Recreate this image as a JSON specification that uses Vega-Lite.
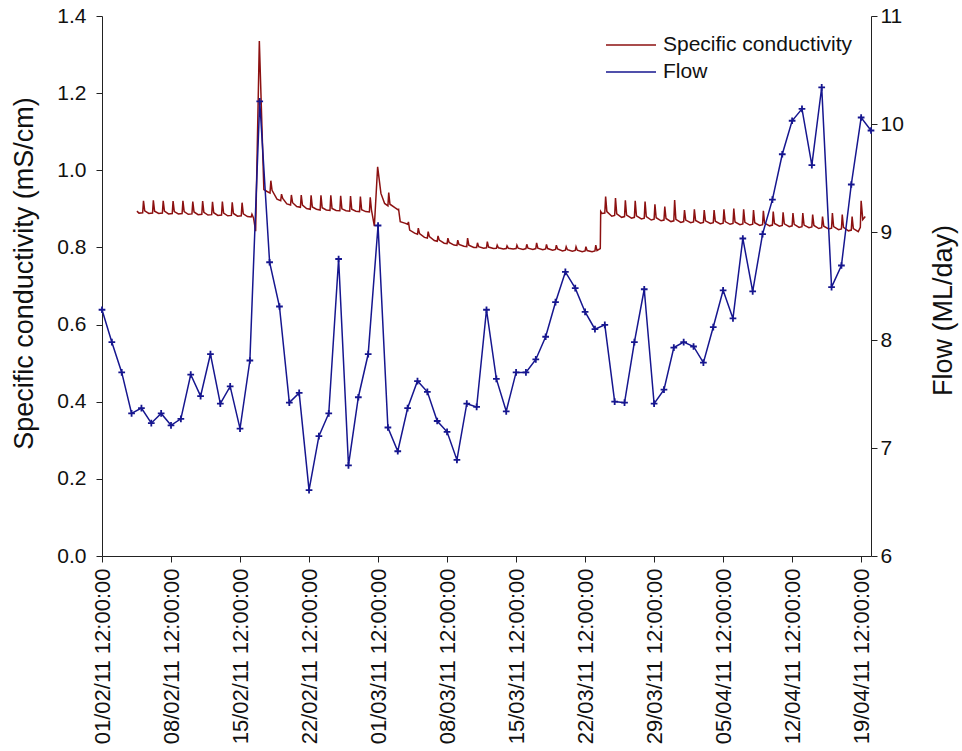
{
  "$schema": "https://vega.github.io/schema/vega-lite/v6.json",
  "width": 769,
  "height": 540,
  "autosize": "none",
  "padding": {"left": 102, "top": 16, "right": 91, "bottom": 195},
  "background": "white",
  "config": {
    "view": {"stroke": null},
    "font": "Liberation Sans",
    "axis": {
      "grid": false,
      "domainColor": "#222222",
      "tickColor": "#222222",
      "tickSize": 6,
      "labelFont": "Liberation Sans",
      "labelFontSize": 21,
      "labelColor": "#111111",
      "titleFont": "Liberation Sans",
      "titleFontSize": 27,
      "titleFontWeight": "normal",
      "titleColor": "#111111"
    },
    "legend": {
      "labelFont": "Liberation Sans",
      "labelFontSize": 21,
      "labelColor": "#111111"
    }
  },
  "datasets": {
    "flow": [
      {"t":"2011-02-01T12:00","f":8.28},{"t":"2011-02-02T12:00","f":7.98},{"t":"2011-02-03T12:00","f":7.70},{"t":"2011-02-04T12:00","f":7.32},
      {"t":"2011-02-05T12:00","f":7.37},{"t":"2011-02-06T12:00","f":7.23},{"t":"2011-02-07T12:00","f":7.32},{"t":"2011-02-08T12:00","f":7.21},
      {"t":"2011-02-09T12:00","f":7.27},{"t":"2011-02-10T12:00","f":7.68},{"t":"2011-02-11T12:00","f":7.48},{"t":"2011-02-12T12:00","f":7.87},
      {"t":"2011-02-13T12:00","f":7.41},{"t":"2011-02-14T12:00","f":7.57},{"t":"2011-02-15T12:00","f":7.18},{"t":"2011-02-16T12:00","f":7.81},
      {"t":"2011-02-17T12:00","f":10.21},{"t":"2011-02-18T12:00","f":8.72},{"t":"2011-02-19T12:00","f":8.31},{"t":"2011-02-20T12:00","f":7.42},
      {"t":"2011-02-21T12:00","f":7.51},{"t":"2011-02-22T12:00","f":6.61},{"t":"2011-02-23T12:00","f":7.11},{"t":"2011-02-24T12:00","f":7.32},
      {"t":"2011-02-25T12:00","f":8.75},{"t":"2011-02-26T12:00","f":6.84},{"t":"2011-02-27T12:00","f":7.47},{"t":"2011-02-28T12:00","f":7.87},
      {"t":"2011-03-01T12:00","f":9.06},{"t":"2011-03-02T12:00","f":7.19},{"t":"2011-03-03T12:00","f":6.97},{"t":"2011-03-04T12:00","f":7.37},
      {"t":"2011-03-05T12:00","f":7.62},{"t":"2011-03-06T12:00","f":7.52},{"t":"2011-03-07T12:00","f":7.25},{"t":"2011-03-08T12:00","f":7.15},
      {"t":"2011-03-09T12:00","f":6.89},{"t":"2011-03-10T12:00","f":7.41},{"t":"2011-03-11T12:00","f":7.38},{"t":"2011-03-12T12:00","f":8.28},
      {"t":"2011-03-13T12:00","f":7.64},{"t":"2011-03-14T12:00","f":7.34},{"t":"2011-03-15T12:00","f":7.70},{"t":"2011-03-16T12:00","f":7.70},
      {"t":"2011-03-17T12:00","f":7.82},{"t":"2011-03-18T12:00","f":8.03},{"t":"2011-03-19T12:00","f":8.35},{"t":"2011-03-20T12:00","f":8.63},
      {"t":"2011-03-21T12:00","f":8.48},{"t":"2011-03-22T12:00","f":8.26},{"t":"2011-03-23T12:00","f":8.10},{"t":"2011-03-24T12:00","f":8.14},
      {"t":"2011-03-25T12:00","f":7.43},{"t":"2011-03-26T12:00","f":7.42},{"t":"2011-03-27T12:00","f":7.98},{"t":"2011-03-28T12:00","f":8.47},
      {"t":"2011-03-29T12:00","f":7.41},{"t":"2011-03-30T12:00","f":7.54},{"t":"2011-03-31T12:00","f":7.93},{"t":"2011-04-01T12:00","f":7.98},
      {"t":"2011-04-02T12:00","f":7.94},{"t":"2011-04-03T12:00","f":7.79},{"t":"2011-04-04T12:00","f":8.12},{"t":"2011-04-05T12:00","f":8.46},
      {"t":"2011-04-06T12:00","f":8.20},{"t":"2011-04-07T12:00","f":8.94},{"t":"2011-04-08T12:00","f":8.45},{"t":"2011-04-09T12:00","f":8.98},
      {"t":"2011-04-10T12:00","f":9.30},{"t":"2011-04-11T12:00","f":9.72},{"t":"2011-04-12T12:00","f":10.03},{"t":"2011-04-13T12:00","f":10.14},
      {"t":"2011-04-14T12:00","f":9.62},{"t":"2011-04-15T12:00","f":10.34},{"t":"2011-04-16T12:00","f":8.49},{"t":"2011-04-17T12:00","f":8.69},
      {"t":"2011-04-18T12:00","f":9.44},{"t":"2011-04-19T12:00","f":10.06},{"t":"2011-04-20T12:00","f":9.94}
    ],
    "cond": [
      {"t":"2011-02-05T01:00","c":0.894},{"t":"2011-02-05T06:00","c":0.889},{"t":"2011-02-05T15:00","c":0.890},{"t":"2011-02-05T17:00","c":0.921},{"t":"2011-02-05T20:00","c":0.895},
      {"t":"2011-02-06T06:00","c":0.888},{"t":"2011-02-06T15:00","c":0.889},{"t":"2011-02-06T17:00","c":0.922},{"t":"2011-02-06T20:00","c":0.894},
      {"t":"2011-02-07T06:00","c":0.888},{"t":"2011-02-07T15:00","c":0.889},{"t":"2011-02-07T17:00","c":0.921},{"t":"2011-02-07T20:00","c":0.894},
      {"t":"2011-02-08T06:00","c":0.887},{"t":"2011-02-08T15:00","c":0.888},{"t":"2011-02-08T17:00","c":0.920},{"t":"2011-02-08T20:00","c":0.893},
      {"t":"2011-02-09T06:00","c":0.887},{"t":"2011-02-09T15:00","c":0.888},{"t":"2011-02-09T17:00","c":0.921},{"t":"2011-02-09T20:00","c":0.893},
      {"t":"2011-02-10T06:00","c":0.886},{"t":"2011-02-10T15:00","c":0.887},{"t":"2011-02-10T17:00","c":0.919},{"t":"2011-02-10T20:00","c":0.892},
      {"t":"2011-02-11T06:00","c":0.885},{"t":"2011-02-11T15:00","c":0.886},{"t":"2011-02-11T17:00","c":0.920},{"t":"2011-02-11T20:00","c":0.891},
      {"t":"2011-02-12T06:00","c":0.884},{"t":"2011-02-12T15:00","c":0.885},{"t":"2011-02-12T17:00","c":0.918},{"t":"2011-02-12T20:00","c":0.890},
      {"t":"2011-02-13T06:00","c":0.883},{"t":"2011-02-13T15:00","c":0.884},{"t":"2011-02-13T17:00","c":0.919},{"t":"2011-02-13T20:00","c":0.889},
      {"t":"2011-02-14T06:00","c":0.882},{"t":"2011-02-14T15:00","c":0.883},{"t":"2011-02-14T17:00","c":0.917},{"t":"2011-02-14T20:00","c":0.888},
      {"t":"2011-02-15T06:00","c":0.881},{"t":"2011-02-15T15:00","c":0.882},{"t":"2011-02-15T17:00","c":0.916},{"t":"2011-02-15T20:00","c":0.887},
      {"t":"2011-02-16T06:00","c":0.880},{"t":"2011-02-16T15:00","c":0.879},{"t":"2011-02-16T17:00","c":0.886},{"t":"2011-02-16T21:00","c":0.876},
      {"t":"2011-02-17T02:00","c":0.842},{"t":"2011-02-17T11:00","c":1.335},{"t":"2011-02-17T22:00","c":0.950},
      {"t":"2011-02-18T06:00","c":0.945},{"t":"2011-02-18T13:00","c":0.941},{"t":"2011-02-18T15:00","c":0.973},{"t":"2011-02-18T18:00","c":0.948},
      {"t":"2011-02-19T06:00","c":0.925},{"t":"2011-02-19T15:00","c":0.921},{"t":"2011-02-19T17:00","c":0.938},{"t":"2011-02-19T20:00","c":0.927},
      {"t":"2011-02-20T06:00","c":0.913},{"t":"2011-02-20T15:00","c":0.910},{"t":"2011-02-20T17:00","c":0.936},{"t":"2011-02-20T20:00","c":0.916},
      {"t":"2011-02-21T06:00","c":0.906},{"t":"2011-02-21T15:00","c":0.904},{"t":"2011-02-21T17:00","c":0.936},{"t":"2011-02-21T20:00","c":0.910},
      {"t":"2011-02-22T06:00","c":0.901},{"t":"2011-02-22T15:00","c":0.899},{"t":"2011-02-22T17:00","c":0.935},{"t":"2011-02-22T20:00","c":0.905},
      {"t":"2011-02-23T06:00","c":0.899},{"t":"2011-02-23T15:00","c":0.897},{"t":"2011-02-23T17:00","c":0.935},{"t":"2011-02-23T20:00","c":0.903},
      {"t":"2011-02-24T06:00","c":0.897},{"t":"2011-02-24T15:00","c":0.896},{"t":"2011-02-24T17:00","c":0.935},{"t":"2011-02-24T20:00","c":0.901},
      {"t":"2011-02-25T06:00","c":0.896},{"t":"2011-02-25T15:00","c":0.895},{"t":"2011-02-25T17:00","c":0.934},{"t":"2011-02-25T20:00","c":0.900},
      {"t":"2011-02-26T06:00","c":0.895},{"t":"2011-02-26T15:00","c":0.894},{"t":"2011-02-26T17:00","c":0.933},{"t":"2011-02-26T20:00","c":0.899},
      {"t":"2011-02-27T06:00","c":0.894},{"t":"2011-02-27T15:00","c":0.893},{"t":"2011-02-27T17:00","c":0.932},{"t":"2011-02-27T20:00","c":0.898},
      {"t":"2011-02-28T06:00","c":0.893},{"t":"2011-02-28T15:00","c":0.892},{"t":"2011-02-28T17:00","c":0.930},{"t":"2011-02-28T20:00","c":0.897},
      {"t":"2011-03-01T03:00","c":0.855},{"t":"2011-03-01T11:00","c":1.009},{"t":"2011-03-01T19:00","c":0.940},
      {"t":"2011-03-02T04:00","c":0.914},{"t":"2011-03-02T12:00","c":0.908},{"t":"2011-03-02T14:00","c":0.942},{"t":"2011-03-02T17:00","c":0.912},
      {"t":"2011-03-03T05:00","c":0.903},{"t":"2011-03-03T12:00","c":0.898},{"t":"2011-03-03T14:00","c":0.899},{"t":"2011-03-03T18:00","c":0.867},
      {"t":"2011-03-04T05:00","c":0.863},{"t":"2011-03-04T12:00","c":0.860},{"t":"2011-03-04T14:00","c":0.866},{"t":"2011-03-04T17:00","c":0.845},
      {"t":"2011-03-05T05:00","c":0.837},{"t":"2011-03-05T12:00","c":0.834},{"t":"2011-03-05T14:00","c":0.850},{"t":"2011-03-05T17:00","c":0.836},
      {"t":"2011-03-06T05:00","c":0.826},{"t":"2011-03-06T12:00","c":0.824},{"t":"2011-03-06T14:00","c":0.841},{"t":"2011-03-06T17:00","c":0.828},
      {"t":"2011-03-07T05:00","c":0.818},{"t":"2011-03-07T12:00","c":0.816},{"t":"2011-03-07T14:00","c":0.830},{"t":"2011-03-07T17:00","c":0.819},
      {"t":"2011-03-08T05:00","c":0.811},{"t":"2011-03-08T12:00","c":0.810},{"t":"2011-03-08T14:00","c":0.824},{"t":"2011-03-08T17:00","c":0.813},
      {"t":"2011-03-09T05:00","c":0.806},{"t":"2011-03-09T12:00","c":0.805},{"t":"2011-03-09T14:00","c":0.819},{"t":"2011-03-09T17:00","c":0.808},
      {"t":"2011-03-10T05:00","c":0.803},{"t":"2011-03-10T12:00","c":0.802},{"t":"2011-03-10T14:00","c":0.824},{"t":"2011-03-10T17:00","c":0.806},
      {"t":"2011-03-11T05:00","c":0.800},{"t":"2011-03-11T12:00","c":0.800},{"t":"2011-03-11T14:00","c":0.812},{"t":"2011-03-11T17:00","c":0.802},
      {"t":"2011-03-12T05:00","c":0.798},{"t":"2011-03-12T12:00","c":0.799},{"t":"2011-03-12T14:00","c":0.815},{"t":"2011-03-12T17:00","c":0.801},
      {"t":"2011-03-13T05:00","c":0.797},{"t":"2011-03-13T12:00","c":0.798},{"t":"2011-03-13T14:00","c":0.806},{"t":"2011-03-13T17:00","c":0.799},
      {"t":"2011-03-14T05:00","c":0.796},{"t":"2011-03-14T12:00","c":0.797},{"t":"2011-03-14T14:00","c":0.804},{"t":"2011-03-14T17:00","c":0.798},
      {"t":"2011-03-15T05:00","c":0.796},{"t":"2011-03-15T12:00","c":0.797},{"t":"2011-03-15T14:00","c":0.806},{"t":"2011-03-15T17:00","c":0.798},
      {"t":"2011-03-16T05:00","c":0.795},{"t":"2011-03-16T12:00","c":0.797},{"t":"2011-03-16T14:00","c":0.808},{"t":"2011-03-16T17:00","c":0.798},
      {"t":"2011-03-17T05:00","c":0.795},{"t":"2011-03-17T12:00","c":0.797},{"t":"2011-03-17T14:00","c":0.812},{"t":"2011-03-17T17:00","c":0.798},
      {"t":"2011-03-18T05:00","c":0.794},{"t":"2011-03-18T12:00","c":0.796},{"t":"2011-03-18T14:00","c":0.808},{"t":"2011-03-18T17:00","c":0.797},
      {"t":"2011-03-19T05:00","c":0.793},{"t":"2011-03-19T12:00","c":0.795},{"t":"2011-03-19T14:00","c":0.806},{"t":"2011-03-19T17:00","c":0.796},
      {"t":"2011-03-20T05:00","c":0.791},{"t":"2011-03-20T12:00","c":0.793},{"t":"2011-03-20T14:00","c":0.802},{"t":"2011-03-20T17:00","c":0.794},
      {"t":"2011-03-21T05:00","c":0.790},{"t":"2011-03-21T12:00","c":0.792},{"t":"2011-03-21T14:00","c":0.802},{"t":"2011-03-21T17:00","c":0.793},
      {"t":"2011-03-22T05:00","c":0.789},{"t":"2011-03-22T12:00","c":0.791},{"t":"2011-03-22T14:00","c":0.802},{"t":"2011-03-22T17:00","c":0.792},
      {"t":"2011-03-23T05:00","c":0.789},{"t":"2011-03-23T12:00","c":0.791},{"t":"2011-03-23T14:00","c":0.806},{"t":"2011-03-23T17:00","c":0.792},
      {"t":"2011-03-24T01:00","c":0.797},{"t":"2011-03-24T02:00","c":0.893},{"t":"2011-03-24T05:00","c":0.888},{"t":"2011-03-24T12:00","c":0.889},{"t":"2011-03-24T14:00","c":0.932},{"t":"2011-03-24T17:00","c":0.893},
      {"t":"2011-03-25T05:00","c":0.881},{"t":"2011-03-25T12:00","c":0.883},{"t":"2011-03-25T14:00","c":0.928},{"t":"2011-03-25T17:00","c":0.887},
      {"t":"2011-03-26T05:00","c":0.878},{"t":"2011-03-26T12:00","c":0.880},{"t":"2011-03-26T14:00","c":0.922},{"t":"2011-03-26T17:00","c":0.884},
      {"t":"2011-03-27T05:00","c":0.876},{"t":"2011-03-27T12:00","c":0.878},{"t":"2011-03-27T14:00","c":0.921},{"t":"2011-03-27T17:00","c":0.882},
      {"t":"2011-03-28T05:00","c":0.874},{"t":"2011-03-28T12:00","c":0.876},{"t":"2011-03-28T14:00","c":0.919},{"t":"2011-03-28T17:00","c":0.880},
      {"t":"2011-03-29T05:00","c":0.871},{"t":"2011-03-29T12:00","c":0.873},{"t":"2011-03-29T14:00","c":0.912},{"t":"2011-03-29T17:00","c":0.877},
      {"t":"2011-03-30T05:00","c":0.869},{"t":"2011-03-30T12:00","c":0.871},{"t":"2011-03-30T14:00","c":0.906},{"t":"2011-03-30T17:00","c":0.875},
      {"t":"2011-03-31T05:00","c":0.867},{"t":"2011-03-31T12:00","c":0.869},{"t":"2011-03-31T14:00","c":0.923},{"t":"2011-03-31T17:00","c":0.873},
      {"t":"2011-04-01T05:00","c":0.865},{"t":"2011-04-01T12:00","c":0.867},{"t":"2011-04-01T14:00","c":0.897},{"t":"2011-04-01T17:00","c":0.871},
      {"t":"2011-04-02T05:00","c":0.864},{"t":"2011-04-02T12:00","c":0.866},{"t":"2011-04-02T14:00","c":0.899},{"t":"2011-04-02T17:00","c":0.870},
      {"t":"2011-04-03T05:00","c":0.863},{"t":"2011-04-03T12:00","c":0.865},{"t":"2011-04-03T14:00","c":0.897},{"t":"2011-04-03T17:00","c":0.869},
      {"t":"2011-04-04T05:00","c":0.862},{"t":"2011-04-04T12:00","c":0.864},{"t":"2011-04-04T14:00","c":0.897},{"t":"2011-04-04T17:00","c":0.868},
      {"t":"2011-04-05T05:00","c":0.861},{"t":"2011-04-05T12:00","c":0.863},{"t":"2011-04-05T14:00","c":0.899},{"t":"2011-04-05T17:00","c":0.867},
      {"t":"2011-04-06T05:00","c":0.860},{"t":"2011-04-06T12:00","c":0.862},{"t":"2011-04-06T14:00","c":0.901},{"t":"2011-04-06T17:00","c":0.866},
      {"t":"2011-04-07T05:00","c":0.859},{"t":"2011-04-07T12:00","c":0.861},{"t":"2011-04-07T14:00","c":0.899},{"t":"2011-04-07T17:00","c":0.865},
      {"t":"2011-04-08T05:00","c":0.858},{"t":"2011-04-08T12:00","c":0.860},{"t":"2011-04-08T14:00","c":0.897},{"t":"2011-04-08T17:00","c":0.864},
      {"t":"2011-04-09T05:00","c":0.857},{"t":"2011-04-09T12:00","c":0.859},{"t":"2011-04-09T14:00","c":0.895},{"t":"2011-04-09T17:00","c":0.863},
      {"t":"2011-04-10T05:00","c":0.856},{"t":"2011-04-10T12:00","c":0.858},{"t":"2011-04-10T14:00","c":0.893},{"t":"2011-04-10T17:00","c":0.862},
      {"t":"2011-04-11T05:00","c":0.855},{"t":"2011-04-11T12:00","c":0.857},{"t":"2011-04-11T14:00","c":0.891},{"t":"2011-04-11T17:00","c":0.861},
      {"t":"2011-04-12T05:00","c":0.854},{"t":"2011-04-12T12:00","c":0.856},{"t":"2011-04-12T14:00","c":0.889},{"t":"2011-04-12T17:00","c":0.860},
      {"t":"2011-04-13T05:00","c":0.852},{"t":"2011-04-13T12:00","c":0.854},{"t":"2011-04-13T14:00","c":0.889},{"t":"2011-04-13T17:00","c":0.858},
      {"t":"2011-04-14T05:00","c":0.851},{"t":"2011-04-14T12:00","c":0.853},{"t":"2011-04-14T14:00","c":0.885},{"t":"2011-04-14T17:00","c":0.857},
      {"t":"2011-04-15T05:00","c":0.849},{"t":"2011-04-15T12:00","c":0.851},{"t":"2011-04-15T14:00","c":0.880},{"t":"2011-04-15T17:00","c":0.855},
      {"t":"2011-04-16T05:00","c":0.848},{"t":"2011-04-16T12:00","c":0.850},{"t":"2011-04-16T14:00","c":0.889},{"t":"2011-04-16T17:00","c":0.854},
      {"t":"2011-04-17T05:00","c":0.846},{"t":"2011-04-17T12:00","c":0.848},{"t":"2011-04-17T14:00","c":0.885},{"t":"2011-04-17T17:00","c":0.852},
      {"t":"2011-04-18T05:00","c":0.843},{"t":"2011-04-18T12:00","c":0.845},{"t":"2011-04-18T14:00","c":0.880},{"t":"2011-04-18T17:00","c":0.849},
      {"t":"2011-04-19T05:00","c":0.841},{"t":"2011-04-19T10:00","c":0.852},{"t":"2011-04-19T12:00","c":0.921},{"t":"2011-04-19T16:00","c":0.872},{"t":"2011-04-19T22:00","c":0.880}
    ]
  },
  "encoding": {
    "x": {
      "field": "t",
      "type": "temporal",
      "scale": {
        "domain": [
          {"year": 2011, "month": 2, "date": 1, "hours": 12},
          {"year": 2011, "month": 4, "date": 20, "hours": 12}
        ],
        "nice": false
      },
      "axis": {
        "title": null,
        "values": [
          {"year": 2011, "month": 2, "date": 1, "hours": 12},
          {"year": 2011, "month": 2, "date": 8, "hours": 12},
          {"year": 2011, "month": 2, "date": 15, "hours": 12},
          {"year": 2011, "month": 2, "date": 22, "hours": 12},
          {"year": 2011, "month": 3, "date": 1, "hours": 12},
          {"year": 2011, "month": 3, "date": 8, "hours": 12},
          {"year": 2011, "month": 3, "date": 15, "hours": 12},
          {"year": 2011, "month": 3, "date": 22, "hours": 12},
          {"year": 2011, "month": 3, "date": 29, "hours": 12},
          {"year": 2011, "month": 4, "date": 5, "hours": 12},
          {"year": 2011, "month": 4, "date": 12, "hours": 12},
          {"year": 2011, "month": 4, "date": 19, "hours": 12}
        ],
        "format": "%d/%m/%y %H:%M:%S",
        "labelAngle": -90,
        "labelFontSize": 22,
        "labelPadding": 6,
        "labelLimit": 300,
        "labelOverlap": false,
        "labelFlush": false
      }
    }
  },
  "layer": [
    {
      "data": {"name": "cond"},
      "mark": {"type": "line", "strokeWidth": 1.5, "interpolate": "linear"},
      "encoding": {
        "y": {
          "field": "c",
          "type": "quantitative",
          "scale": {"domain": [0, 1.4], "nice": false, "zero": false},
          "axis": {
            "orient": "left",
            "title": "Specific conductivity (mS/cm)",
            "values": [0, 0.2, 0.4, 0.6, 0.8, 1.0, 1.2, 1.4],
            "format": ".1f",
            "labelPadding": 10,
            "titlePadding": 18,
            "titleY": 257
          }
        },
        "color": {
          "datum": "Specific conductivity",
          "type": "nominal",
          "scale": {"domain": ["Specific conductivity", "Flow"], "range": ["#8c1111", "#16168f"]},
          "legend": {
            "title": null,
            "orient": "none",
            "legendX": 503,
            "legendY": 18,
            "padding": 0,
            "symbolType": "stroke",
            "symbolSize": 2500,
            "symbolStrokeWidth": 1.5,
            "clipHeight": 22,
            "rowPadding": 5,
            "labelOffset": 6,
            "labelLimit": 400,
            "labelFontSize": 21
          }
        }
      }
    },
    {
      "data": {"name": "flow"},
      "encoding": {
        "y": {
          "field": "f",
          "type": "quantitative",
          "scale": {"domain": [6, 11], "nice": false, "zero": false},
          "axis": {
            "orient": "right",
            "title": "Flow (ML/day)",
            "values": [6, 7, 8, 9, 10, 11],
            "format": "d",
            "labelPadding": 3,
            "titleAngle": -90,
            "titlePadding": 54,
            "titleY": 294
          }
        }
      },
      "layer": [
        {
          "mark": {"type": "line", "strokeWidth": 1.5},
          "encoding": {
            "color": {"datum": "Flow", "type": "nominal"}
          }
        },
        {
          "mark": {"type": "point", "shape": "M-1,0L1,0M0,-1L0,1", "filled": false, "size": 45, "strokeWidth": 1.8, "color": "#16168f", "opacity": 1},
          "encoding": {}
        }
      ]
    }
  ],
  "resolve": {"scale": {"y": "independent"}}
}
